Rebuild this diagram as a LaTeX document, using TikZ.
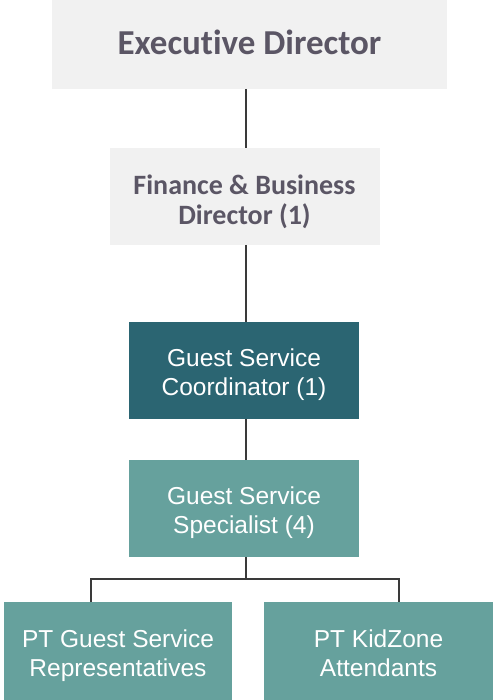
\documentclass[tikz,border=0pt]{standalone}
\usepackage{fontspec}
\setmainfont{Liberation Sans}
\newfontfamily\calib[Ligatures=NoCommon]{Carlito}
\definecolor{boxgray}{HTML}{F1F1F1}
\definecolor{txtgray}{HTML}{5B5665}
\definecolor{darkteal}{HTML}{2B6572}
\definecolor{lightteal}{HTML}{66A19D}
\definecolor{linecol}{HTML}{3A3A3A}
\newcommand{\twolines}[3][5pt]{\raisebox{-#1}[\height][\depth]{\begin{tabular}{@{}c@{}}#2\\#3\end{tabular}}}
\begin{document}
\begin{tikzpicture}[x=1pt,y=-1pt,
  box/.style={rectangle,inner sep=0pt,outer sep=0pt,align=center},
  graybox/.style={box,fill=boxgray,text=txtgray},
  darkbox/.style={box,fill=darkteal,text=white,font=\fontsize{24.5}{28.5}\selectfont},
  lightbox/.style={box,fill=lightteal,text=white,font=\fontsize{24.5}{28.5}\selectfont},
  conn/.style={draw=linecol,line width=1.3pt}]
\useasboundingbox (0,0) rectangle (494,700);
\node[graybox,minimum width=395pt,minimum height=89pt,font=\calib\bfseries\fontsize{35}{38}\selectfont] (ed) at (249.5,44.5) {\raisebox{2.5pt}[\height][\depth]{Executive Director}};
\node[graybox,minimum width=270pt,minimum height=97pt,font=\calib\bfseries\fontsize{28}{29}\selectfont] (fb) at (244.5,196.5) {\twolines[7pt]{Finance \& Business}{Director (1)}};
\node[darkbox,minimum width=230pt,minimum height=97pt] (gc) at (244,370.5) {\twolines{Guest Service}{Coordinator (1)}};
\node[lightbox,minimum width=230pt,minimum height=97pt] (gs) at (244,508.5) {\twolines{Guest Service}{Specialist (4)}};
\node[lightbox,minimum width=228pt,minimum height=99pt] (pt) at (118,651.5) {\twolines{PT Guest Service}{Representatives}};
\node[lightbox,minimum width=229pt,minimum height=99pt] (kz) at (378.5,651.5) {\twolines{PT KidZone}{Attendants}};
\coordinate (br) at (246,579);
\coordinate (bl) at (91,579);
\coordinate (bri) at (399,579);
\draw[conn] (ed.south -| br) -- (fb.north -| br);
\draw[conn] (fb.south -| br) -- (gc.north -| br);
\draw[conn] (gc.south -| br) -- (gs.north -| br);
\draw[conn] (gs.south -| br) -- (br);
\draw[conn] (pt.north -| bl) -- (bl) -- (bri) -- (kz.north -| bri);
\end{tikzpicture}
\end{document}
